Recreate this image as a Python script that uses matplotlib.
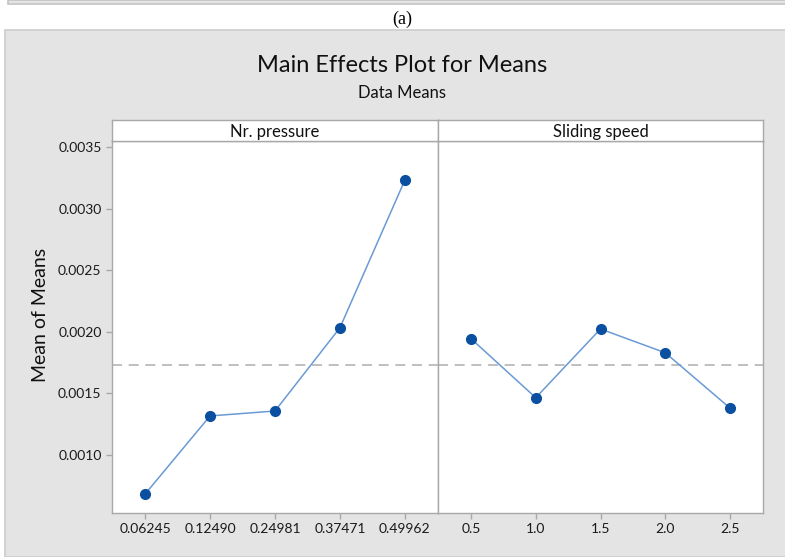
import numpy as np
import matplotlib.pyplot as plt
from matplotlib.patches import Rectangle

plt.rcParams['font.family'] = ['Lato', 'DejaVu Sans']

# data
pressure_labels = ['0.06245', '0.12490', '0.24981', '0.37471', '0.49962']
pressure_means = [0.000683, 0.001317, 0.001357, 0.002033, 0.003232]
speed_labels = ['0.5', '1.0', '1.5', '2.0', '2.5']
speed_means = [0.001944, 0.001465, 0.002023, 0.001830, 0.001381]
grand_mean = 0.001733
factors = ['Nr. pressure', 'Sliding speed']
yticks = [0.0010, 0.0015, 0.0020, 0.0025, 0.0030, 0.0035]

bg = '#e4e4e4'
edge = '#a8a8a8'
line_col = '#6a9ad4'
mark_col = '#0a4fa0'

fig = plt.figure(figsize=(7.85, 5.57), dpi=100)
W, H = 785, 557

def fx(x):
    return x / W

def fy(y):
    return 1 - y / H

# page decorations: top strip, caption, grey panel
fig.patches.append(Rectangle((fx(8), fy(4)), 1, 4 / H, transform=fig.transFigure,
                             facecolor=bg, edgecolor='#c4c4c4', lw=1.2, zorder=-2))
fig.patches.append(Rectangle((fx(5), 0), 1, fy(30), transform=fig.transFigure,
                             facecolor=bg, edgecolor='#cccccc', lw=1.2, zorder=-2))
fig.text(fx(402), fy(19), '(a)', ha='center', va='center', fontsize=13,
         family='Liberation Serif')
fig.text(fx(402), fy(66), 'Main Effects Plot for Means', ha='center', va='center',
         fontsize=17, color='#111111')
fig.text(fx(402), fy(93), 'Data Means', ha='center', va='center', fontsize=12,
         color='#111111')
fig.text(fx(40), fy(315), 'Mean of Means', ha='center', va='center', rotation=90,
         fontsize=14, color='#111111')

panels = [(112, 438), (438, 763)]
series = [(pressure_labels, pressure_means), (speed_labels, speed_means)]
top, bot, strip_top = 141, 513, 120

for i, ((x0, x1), (labels, means)) in enumerate(zip(panels, series)):
    ax = fig.add_axes([fx(x0), fy(bot), (x1 - x0) / W, (bot - top) / H])
    ax.set_facecolor('white')
    x = np.arange(len(labels))
    ax.axhline(grand_mean, color='#b4b4b4', lw=1.2, ls=(0, (6, 4)), zorder=1)
    ax.plot(x, means, color=line_col, lw=1.1, zorder=2)
    ax.plot(x, means, 'o', color=mark_col, ms=7, zorder=3)
    ax.set_xlim(-0.51, 4.51)
    ax.set_ylim(0.000529, 0.003549)
    ax.set_xticks(x)
    ax.set_xticklabels(labels, fontsize=10)
    for s in ax.spines.values():
        s.set_color(edge)
        s.set_linewidth(1.0)
    ax.tick_params(colors=edge, labelcolor='#1a1a1a', length=4, width=1.0)
    if i == 0:
        ax.set_yticks(yticks)
        ax.set_yticklabels([f'{v:.4f}' for v in yticks], fontsize=10)
    else:
        ax.set_yticks([])

    # strip header
    sax = fig.add_axes([fx(x0), fy(top), (x1 - x0) / W, (top - strip_top) / H])
    sax.set_facecolor('white')
    sax.set_xticks([])
    sax.set_yticks([])
    for s in sax.spines.values():
        s.set_color(edge)
        s.set_linewidth(1.0)
    sax.text(0.5, 0.45, factors[i], ha='center', va='center', fontsize=12,
             color='#111111', transform=sax.transAxes)

fig.savefig('out.png', dpi=100)
